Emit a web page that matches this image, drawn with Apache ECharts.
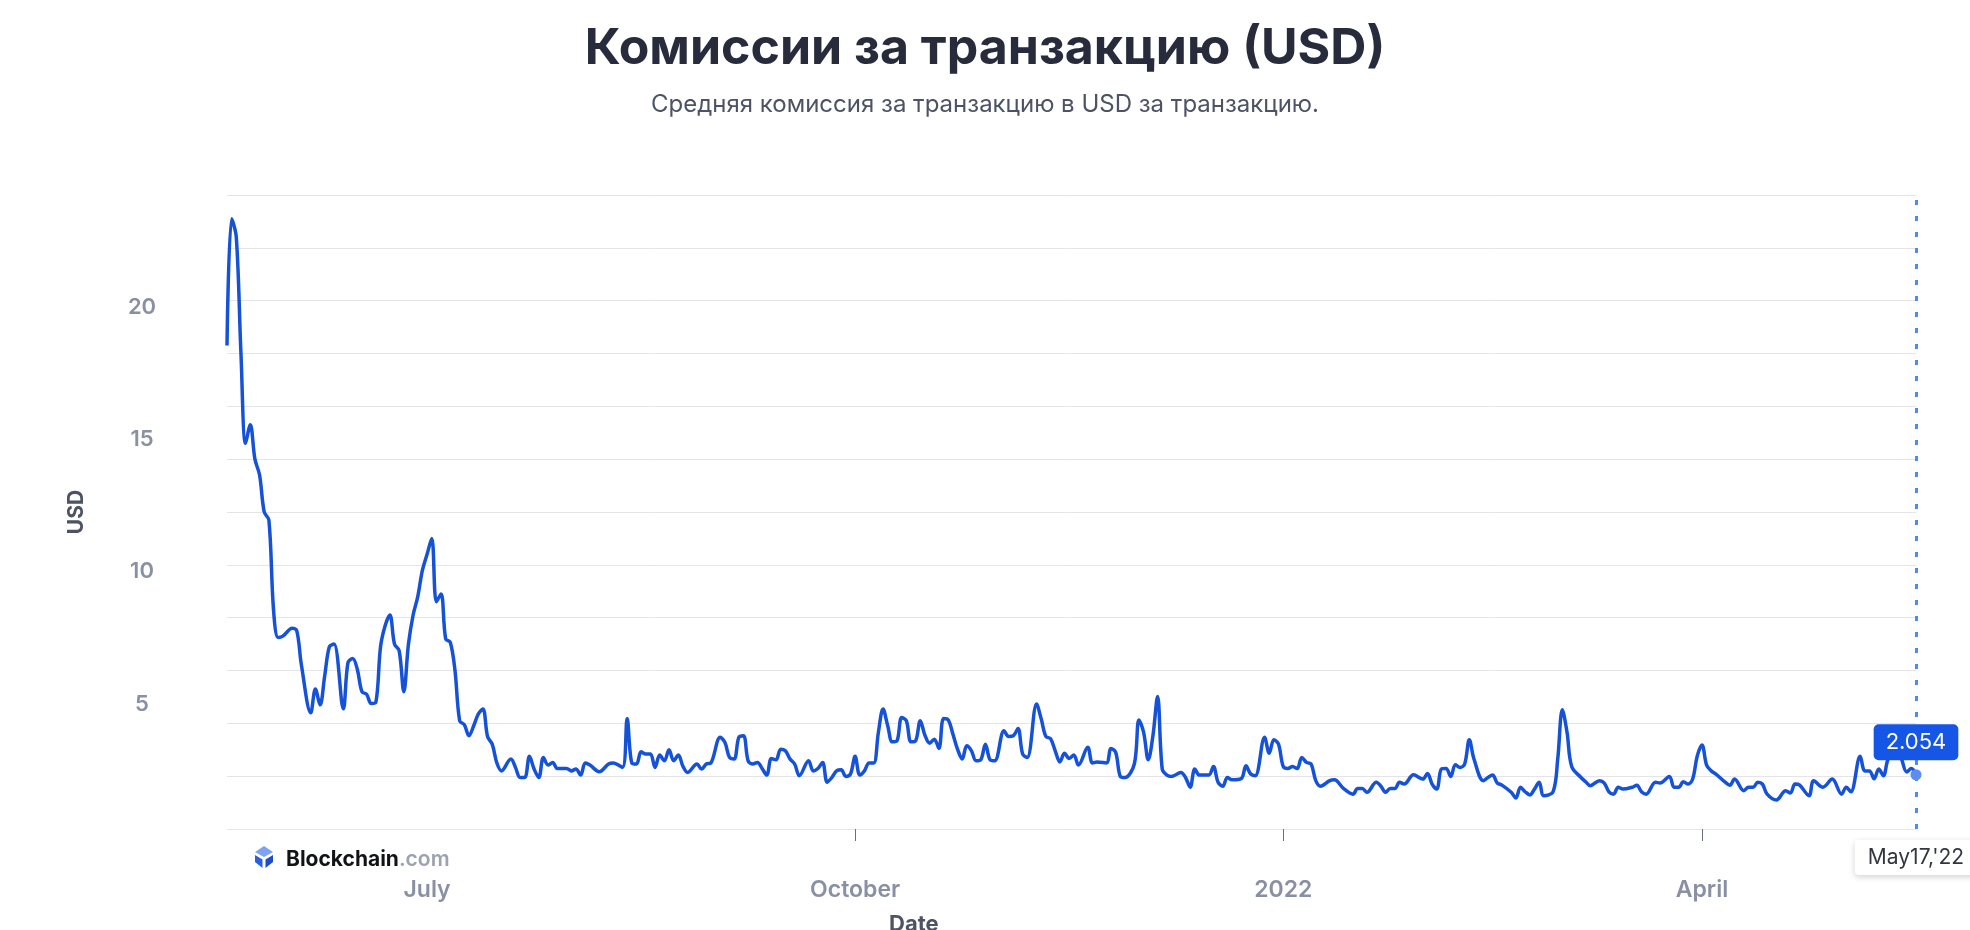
<!DOCTYPE html>
<html>
<head>
<meta charset="utf-8">
<script src="https://cdn.jsdelivr.net/npm/echarts@6/dist/echarts.min.js"></script>
<style>
html,body{margin:0;padding:0;background:#fff;}
#chart{width:1970px;height:930px;}
</style>
</head>
<body>
<div id="chart"></div>
<script>
// ---- data ----
const startDate = '2021-05-19';
const dayOffsets = [
  0,1,2,3,4,5,6,7,8,9,
  10,11,12,14,15,16,18,19,20,21,
  22,23,25,26,27,28,29,30,31,32,
  33,34,35,36,37,38,39,40,41,42,
  43,44,45,46,47,48,49,50,51,52,
  53,54,55,56,57,58,59,61,62,63,
  64,65,66,67,68,69,70,71,73,74,
  75,76,77,78,80,82,83,85,86,87,
  88,89,90,91,92,93,94,95,96,97,
  98,99,101,102,103,104,106,107,108,109,
  110,111,112,113,114,115,116,117,118,119,
  120,121,122,123,125,126,127,128,129,130,
  131,132,133,134,135,136,137,138,139,140,
  141,142,143,144,145,146,147,148,149,150,
  151,152,153,154,155,156,157,158,159,160,
  161,162,163,164,165,167,168,169,170,171,
  172,174,175,176,177,178,179,180,181,182,
  183,185,186,187,189,190,191,192,193,195,
  196,197,198,199,200,201,202,203,205,206,
  207,208,209,211,212,213,214,215,216,218,
  219,220,221,223,224,225,226,227,228,229,
  230,231,232,233,234,235,237,238,240,242,
  243,244,245,247,248,249,250,251,252,253,
  255,257,258,259,260,261,262,263,264,265,
  266,267,268,270,271,272,273,274,276,277,
  278,279,280,281,282,283,285,286,287,288,
  289,291,292,293,295,296,297,298,299,300,
  302,303,304,305,307,308,310,311,312,313,
  314,315,316,317,318,319,320,322,323,324,
  326,327,328,329,330,331,333,335,336,337,
  338,340,341,343,345,347,348,349,351,352,
  353,354,355,356,357,359,360,361,362,363
];
const fees = [
  18.3,23.1,22.4,18.0,14.6,15.3,14.0,13.4,12.0,11.7,
  8.3,7.25,7.3,7.6,7.5,6.2,4.4,5.3,4.7,5.8,
  6.9,7.0,4.55,6.3,6.45,6.05,5.2,5.1,4.75,4.8,
  6.9,7.7,8.1,7.0,6.75,5.2,7.0,8.1,8.8,9.8,
  10.4,11.0,8.6,8.9,7.2,7.06,6.0,4.1,3.95,3.53,
  3.9,4.35,4.54,3.5,3.21,2.5,2.2,2.65,2.33,1.95,
  1.95,2.75,2.27,1.95,2.71,2.42,2.52,2.29,2.29,2.2,
  2.27,2.04,2.5,2.42,2.17,2.46,2.5,2.33,4.18,2.5,
  2.46,2.92,2.84,2.84,2.33,2.8,2.58,3.0,2.58,2.8,
  2.37,2.14,2.46,2.27,2.46,2.5,3.47,3.28,2.71,2.65,
  3.47,3.53,2.58,2.46,2.52,2.29,2.04,2.67,2.62,3.02,
  2.96,2.65,2.46,2.02,2.58,2.2,2.29,2.52,1.77,1.95,
  2.2,2.24,1.99,2.08,2.75,2.04,2.2,2.5,2.5,3.66,
  4.54,3.91,3.3,3.34,4.22,4.1,3.3,3.34,4.1,3.55,
  3.25,3.4,3.05,4.18,4.13,3.6,3.02,2.65,3.15,2.96,
  2.58,2.62,3.21,2.62,2.58,3.72,3.5,3.53,3.8,2.84,
  2.71,4.73,4.16,3.5,3.42,2.96,2.54,2.87,2.67,2.8,
  2.42,3.09,2.5,2.54,2.5,3.05,2.9,1.99,1.95,2.46,
  4.13,3.66,2.62,3.53,5.02,2.27,2.04,1.99,2.14,1.95,
  1.58,2.27,2.04,2.04,2.37,1.77,1.62,1.95,1.86,1.91,
  2.39,2.08,2.02,3.47,2.87,3.38,3.21,2.37,2.29,2.37,
  2.29,2.71,2.52,2.46,1.83,1.62,1.83,1.86,1.53,1.32,
  1.53,1.53,1.39,1.77,1.62,1.39,1.53,1.53,1.77,1.7,
  2.05,1.89,2.1,1.7,1.51,2.27,2.29,1.99,2.43,2.33,
  2.46,3.38,2.65,1.83,1.95,2.04,1.74,1.66,1.39,1.17,
  1.58,1.41,1.29,1.51,1.77,1.26,1.41,2.65,4.51,3.66,
  2.37,1.95,1.79,1.64,1.83,1.74,1.41,1.32,1.58,1.51,
  1.58,1.66,1.41,1.32,1.77,1.74,1.99,1.58,1.58,1.79,
  1.7,1.89,2.77,3.18,2.42,2.2,2.08,1.77,1.66,1.89,
  1.45,1.58,1.58,1.77,1.7,1.32,1.1,1.45,1.36,1.7,
  1.66,1.26,1.83,1.58,1.89,1.32,1.58,1.41,2.75,2.2,
  2.2,1.9,2.27,2.02,2.65,3.2,2.6,2.16,2.29,2.054
];
const xTickDates = ['2021-07-01','2021-10-01','2022-01-01','2022-04-01'];
const xTickLabels = ['July','October','2022','April'];
const yLabelValues = [5,10,15,20];
const lastDateLabel = "May17,'22";
const titleText = 'Комиссии за транзакцию (USD)';
const subtitleText = 'Средняя комиссия за транзакцию в USD за транзакцию.';

// ---- helpers ----
function ts(s){ const p = s.split('-').map(Number); return Date.UTC(p[0], p[1]-1, p[2]); }
const DAY = 86400000;
const t0 = ts(startDate);
const seriesData = dayOffsets.map((d,i) => [t0 + d*DAY, fees[i]]);
const lastPoint = seriesData[seriesData.length-1];
const tickTs = xTickDates.map(ts);

const FONT = 'Inter, "Noto Sans", sans-serif';
const chart = echarts.init(document.getElementById('chart'), null, {renderer:'canvas'});

chart.setOption({
  animation: false,
  backgroundColor: '#ffffff',
  title: [
    {
      text: titleText,
      subtext: subtitleText,
      left: 'center',
      top: 19,
      itemGap: 19,
      textStyle: {fontFamily: FONT, fontWeight: 700, fontSize: 50, color: '#272b3b'},
      subtextStyle: {fontFamily: FONT, fontWeight: 400, fontSize: 24, color: '#4d5365'}
    },
    {
      text: 'Date',
      left: 884,
      top: 908,
      textStyle: {fontFamily: FONT, fontWeight: 700, fontSize: 22, color: '#4d5365'}
    },
    {
      text: '{a|Blockchain}{b|.com}',
      left: 281,
      top: 844,
      textStyle: {
        rich: {
          a: {fontFamily: FONT, fontWeight: 700, fontSize: 21, color: '#121317'},
          b: {fontFamily: FONT, fontWeight: 600, fontSize: 21, color: '#9ca2b2'}
        }
      }
    }
  ],
  graphic: [
    {type:'polygon', shape:{points:[[264,846],[273,852],[264,857],[255,852]]}, style:{fill:'#7fa3f3'}},
    {type:'polygon', shape:{points:[[255,855],[262.5,859.5],[262.5,868],[255,862]]}, style:{fill:'#2b5fe0'}},
    {type:'polygon', shape:{points:[[273,855],[265.5,859.5],[265.5,868],[273,862]]}, style:{fill:'#1a4ccc'}}
  ],
  grid: {left: 227, right: 54, top: 195, bottom: 101, containLabel: false, outerBoundsMode: 'none'},
  xAxis: {
    type: 'value',
    min: t0,
    max: lastPoint[0],
    offset: 22,
    axisLine: {show: false},
    splitLine: {show: false},
    axisTick: {show: true, length: 12, lineStyle: {color: '#6b7080', width: 1}, customValues: tickTs.slice(1)},
    axisLabel: {
      customValues: tickTs,
      margin: 28,
      fontFamily: FONT, fontWeight: 600, fontSize: 23, color: '#8a90a4',
      hideOverlap: false,
      formatter: function(v){
        for (let i=0;i<tickTs.length;i++){ if (Math.abs(tickTs[i]-v) < DAY/2) return xTickLabels[i]; }
        return '';
      }
    }
  },
  yAxis: [
    {
      type: 'value', min: 0, max: 24, interval: 2,
      axisLine: {show: false}, axisTick: {show: false}, axisLabel: {show: false},
      splitLine: {show: true, lineStyle: {color: '#e4e5e9', width: 1}}
    },
    {
      type: 'value', min: 0, max: 24, interval: 5, position: 'left',
      name: 'USD', nameLocation: 'middle', nameGap: 140,
      nameTextStyle: {fontFamily: FONT, fontWeight: 700, fontSize: 21, color: '#4d5365'},
      axisLine: {show: false}, axisTick: {show: false}, splitLine: {show: false},
      axisLabel: {
        align: 'center', verticalAlign: 'top', lineHeight: 14, margin: 85,
        fontFamily: FONT, fontWeight: 600, fontSize: 22, color: '#8a90a4',
        formatter: function(v){ return yLabelValues.indexOf(v) >= 0 ? String(v) : ''; }
      }
    }
  ],
  series: [{
    type: 'line',
    data: seriesData,
    yAxisIndex: 0,
    showSymbol: false,
    smooth: 0.35,
    lineStyle: {color: '#1552d8', width: 3.5},
    itemStyle: {color: '#1552d8'},
    markLine: {
      silent: true,
      symbol: 'none',
      data: [{xAxis: lastPoint[0]}],
      lineStyle: {color: '#5289ea', width: 3, type: [5, 11]},
      label: {
        show: true, position: 'start', distance: 11,
        formatter: lastDateLabel,
        fontFamily: FONT, fontWeight: 400, fontSize: 21, color: '#333640',
        backgroundColor: '#ffffff', padding: [7, 13], borderRadius: 4,
        shadowBlur: 6, shadowColor: 'rgba(0,0,0,0.18)', shadowOffsetY: 2
      }
    },
    markPoint: {
      silent: true,
      symbol: 'circle', symbolSize: 11,
      itemStyle: {color: '#5b8ef0'},
      data: [{coord: lastPoint, value: lastPoint[1]}],
      label: {
        show: true, position: 'top', distance: 9,
        formatter: function(p){ return p.value.toFixed(3); },
        fontFamily: FONT, fontWeight: 400, fontSize: 22, color: '#ffffff',
        backgroundColor: '#1656e6', padding: [7, 12], borderRadius: 5
      }
    }
  }]
});
</script>
</body>
</html>
